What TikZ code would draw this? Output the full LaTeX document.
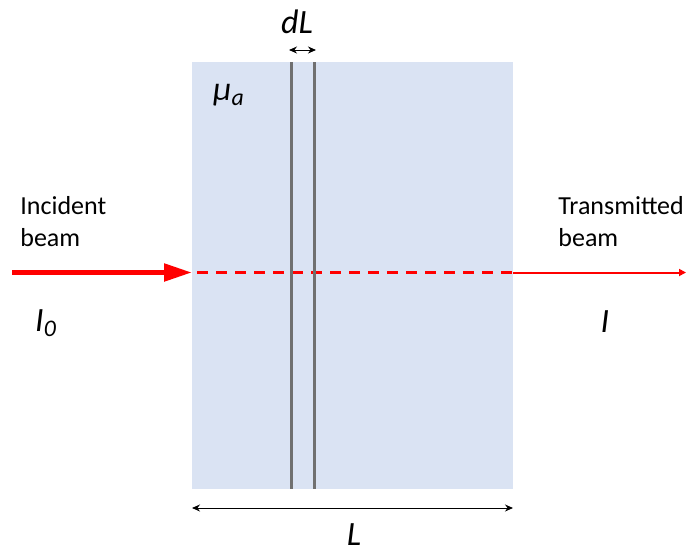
\documentclass[tikz,border=0pt]{standalone}
\usepackage{fontspec}
\setmainfont{Carlito}
\usepackage{xcolor}
\usetikzlibrary{positioning,arrows.meta}
\definecolor{slabblue}{HTML}{DAE3F3}
\definecolor{layergray}{HTML}{707070}

\begin{document}
\begin{tikzpicture}[
    x=0.5pt,y=-0.5pt,
    font=\fontsize{13}{16}\selectfont,
    lbl/.style ={align=left,inner sep=0pt},
    sym/.style ={font=\fontsize{17}{20}\selectfont\itshape,inner sep=0pt},
    layer/.style={layergray,line width=1.5pt},
    dim/.style ={{Stealth[length=4pt,width=3.5pt]}-{Stealth[length=4pt,width=3.5pt]},line width=0.5pt},
    beamin/.style ={red,line width=2.6pt,-{Triangle[length=14pt,width=8.5pt]}},
    beamout/.style={red,line width=1pt,-{Triangle[length=3.5pt,width=3.5pt]}},
    beammid/.style={red,line width=1.5pt,dash pattern=on 5.5pt off 4pt,dash phase=-2.5pt},
    ]
    \useasboundingbox (0,0) rectangle (686,552);

    % absorbing slab
    \coordinate (slabnw) at (192,62);
    \coordinate (slabse) at (513,489);
    \fill[slabblue] (slabnw) rectangle (slabse);

    % beam
    \coordinate (src)  at (12,272.5);
    \coordinate (ent)  at (192,272.5);
    \coordinate (ext)  at (513,272.5);
    \coordinate (dst)  at (686,272.5);
    \draw[beamin]  (src) -- (ent);
    \draw[beammid] (ent) -- (ext);
    \draw[beamout] (ext) -- (dst);

    % thin layer dL
    \coordinate (lay1t) at (291,62);  \coordinate (lay1b) at (291,489);
    \coordinate (lay2t) at (314,62);  \coordinate (lay2b) at (314,489);
    \draw[layer] (lay1t) -- (lay1b);
    \draw[layer] (lay2t) -- (lay2b);

    % dimensions
    \coordinate (dl1) at (289,50);  \coordinate (dl2) at (316,50);
    \draw[dim] (dl1) -- (dl2);
    \node[sym] (dL) at (297,22) {dL};
    \coordinate (l1) at (192,508);  \coordinate (l2) at (513,508);
    \draw[dim] (l1) -- (l2);
    \node[sym] (L) at (354,535) {L};

    % labels
    \node[sym] (mu) at (229,95) {μ\textsubscript{a}};
    \node[lbl,anchor=west] (inc) at (20,222) {Incident\\beam};
    \node[lbl,anchor=west] (trans) at (558,222) {Transmitted\\beam};
    \node[sym] (I0) at (46,323) {I\textsubscript{0}};
    \node[sym] (I) at (605,322) {I};
  \end{tikzpicture}
\end{document}
